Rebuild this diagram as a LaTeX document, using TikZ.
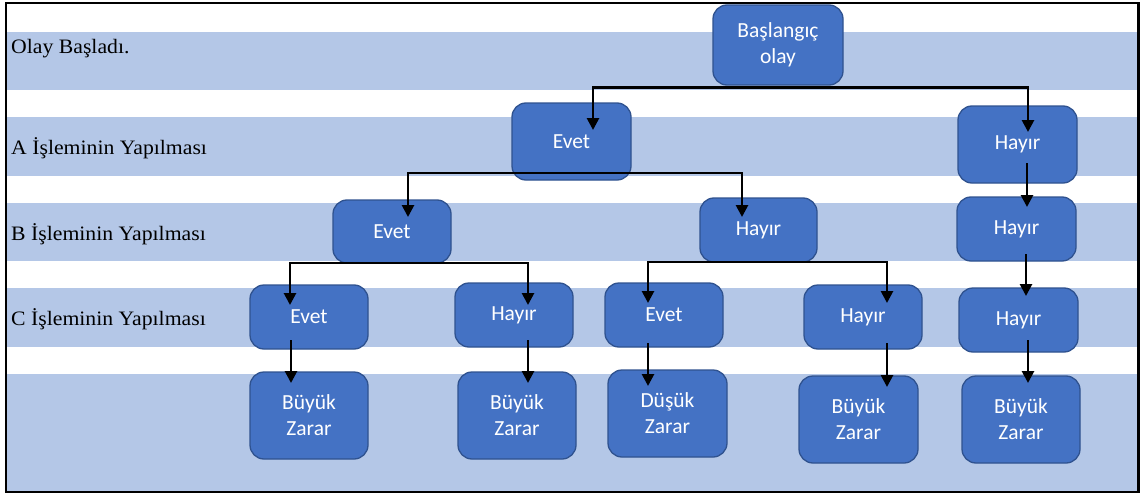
\documentclass[tikz,border=0pt]{standalone}
\usepackage{fontspec}
\setmainfont{Liberation Serif}
\newfontfamily\boxfont{Carlito}
\newfontfamily\rowfont[FakeStretch=1.06]{Liberation Serif}
\usetikzlibrary{arrows.meta,calc}
\definecolor{bandblue}{HTML}{B4C7E7}
\definecolor{boxfill}{HTML}{4472C4}
\definecolor{boxedge}{HTML}{2F528F}
\tikzset{
  stage/.style={draw=boxedge, fill=boxfill, line width=1.3pt, rounded corners=14pt,
    text=white, align=center, inner sep=0pt,
    font=\boxfont\fontsize{21.5}{26}\selectfont},
  rowlabel/.style={anchor=base west, inner sep=0pt, font=\rowfont\fontsize{20.5}{24}\selectfont},
  band/.style={fill=bandblue, draw=none},
  arr/.style={draw=black, line width=2.7pt, -{Triangle[width=12pt,length=12pt]}}
}
\begin{document}
\begin{tikzpicture}[x=1pt, y=-1pt]
\useasboundingbox (0,0) rectangle (1141,495);

% horizontal bands behind each level
\fill[band] (6,32) rectangle (1138,90);
\fill[band] (6,117) rectangle (1138,176);
\fill[band] (6,203) rectangle (1138,261);
\fill[band] (6,288) rectangle (1138,347);
\fill[band] (6,374) rectangle (1138,492);

% outer frame
\draw[line width=2.2pt] (6.3,2.7) rectangle (1138.5,492);

% level labels
\node[rowlabel] (l0) at (11,53.5) {Olay Başladı.};
\node[rowlabel] (l1) at (11,154.5) {A İşleminin Yapılması};
\node[rowlabel] (l2) at (11,240) {B İşleminin Yapılması};
\node[rowlabel] (l3) at (11,325) {C İşleminin Yapılması};

% event tree boxes
\node[stage, minimum width=130pt, minimum height=80pt] (start) at (778,45) {Başlangıç\\olay};

\node[stage, minimum width=119pt, minimum height=77pt] (aE) at (571.5,141.5) {Evet};
\node[stage, minimum width=119pt, minimum height=77pt] (aH) at (1017.5,144.5) {Hayır};

\node[stage, minimum width=118pt, minimum height=63pt] (bE) at (392,231.5) {Evet};
\node[stage, minimum width=117pt, minimum height=64pt] (bH) at (758.5,230) {Hayır};
\node[stage, minimum width=119pt, minimum height=64pt] (bH2) at (1016.5,229) {Hayır};

\node[stage, minimum width=118pt, minimum height=64pt] (cE1) at (309,317) {Evet};
\node[stage, minimum width=118pt, minimum height=64pt] (cH1) at (514,315) {Hayır};
\node[stage, minimum width=118pt, minimum height=64pt] (cE2) at (664,315) {Evet};
\node[stage, minimum width=118pt, minimum height=64pt] (cH2) at (863,317) {Hayır};
\node[stage, minimum width=119pt, minimum height=64pt] (cH3) at (1018.5,320) {Hayır};

\node[stage, minimum width=118pt, minimum height=87pt] (dB1) at (309,415.5) {Büyük\\Zarar};
\node[stage, minimum width=118pt, minimum height=87pt] (dB2) at (517,415.5) {Büyük\\Zarar};
\node[stage, minimum width=119pt, minimum height=87pt] (dD) at (667.5,413.5) {Düşük\\Zarar};
\node[stage, minimum width=119pt, minimum height=87pt] (dB4) at (858.5,419.5) {Büyük\\Zarar};
\node[stage, minimum width=118pt, minimum height=87pt] (dB5) at (1021,419.5) {Büyük\\Zarar};

% branches: start -> level A
\draw[arr] ($(start.south)+(0,2)$) -| ($(aE.center)+(21.5,-11.5)$);
\draw[arr] ($(start.south)+(0,2)$) -| ($(aH.center)+(10.5,-12.5)$);

% level A -> level B
\draw[arr] ($(aE.center)+(0,31.5)$) -| ($(bE.center)+(16,-14.5)$);
\draw[arr] ($(aE.center)+(0,31.5)$) -| ($(bH.center)+(-16.5,-13)$);
\draw[arr] ($(aH.center)+(9.5,18.5)$) -- ($(bH2.center)+(10.5,-22)$);

% level B -> level C
\draw[arr] ($(bE.center)+(0,31.5)$) -| ($(cE1.center)+(-19,-12)$);
\draw[arr] ($(bE.center)+(0,31.5)$) -| ($(cH1.center)+(14,-10)$);
\draw[arr] ($(bH.center)+(0,32)$) -| ($(cE2.center)+(-16,-12)$);
\draw[arr] ($(bH.center)+(0,32)$) -| ($(cH2.center)+(24,-14)$);
\draw[arr] ($(bH2.center)+(9.5,25)$) -- ($(cH3.center)+(7.5,-24)$);

% level C -> outcomes
\draw[arr] ($(cE1.center)+(-18,23)$) -- ($(dB1.center)+(-18,-32.5)$);
\draw[arr] ($(cH1.center)+(14,25)$) -- ($(dB2.center)+(11,-32.5)$);
\draw[arr] ($(cE2.center)+(-16,28)$) -- ($(dD.center)+(-19.5,-27.5)$);
\draw[arr] ($(cH2.center)+(24,26)$) -- ($(dB4.center)+(28.5,-32.5)$);
\draw[arr] ($(cH3.center)+(9.5,20)$) -- ($(dB5.center)+(7,-36.5)$);
\end{tikzpicture}
\end{document}
